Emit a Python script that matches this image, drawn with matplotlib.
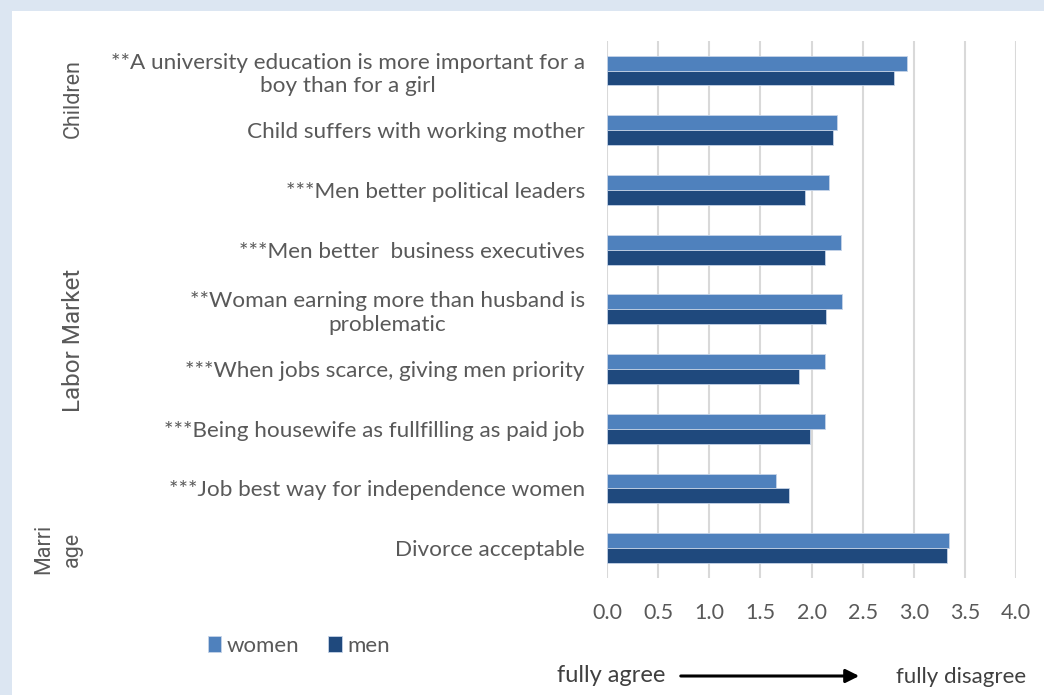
import matplotlib
matplotlib.use("Agg")
import matplotlib.pyplot as plt
from matplotlib.patches import Rectangle, FancyArrowPatch
import numpy as np

plt.rcParams['font.family'] = ['Lato', 'DejaVu Sans']

categories = [
    "**A university education is more important for a\nboy than for a girl",
    "Child suffers with working mother",
    "***Men better political leaders",
    "***Men better  business executives",
    "**Woman earning more than husband is\nproblematic",
    "***When jobs scarce, giving men priority",
    "***Being housewife as fullfilling as paid job",
    "***Job best way for independence women",
    "Divorce acceptable",
]
women = [2.93, 2.25, 2.17, 2.29, 2.30, 2.13, 2.13, 1.65, 3.34]
men = [2.81, 2.21, 1.94, 2.13, 2.14, 1.88, 1.99, 1.78, 3.33]
xticks = [0.0, 0.5, 1.0, 1.5, 2.0, 2.5, 3.0, 3.5, 4.0]
groups = ["Children", "Labor Market", "Marri\nage"]

W, H = 1044, 695
fig = plt.figure(figsize=(W / 100, H / 100), dpi=100)
fig.patch.set_facecolor("#dce6f2")
fig.patches.append(Rectangle((12 / W, 0), 1 - 12 / W, 1 - 11 / H,
                             transform=fig.transFigure, facecolor="white",
                             edgecolor="none", zorder=-10))

ax = fig.add_axes([607 / W, 1 - 578 / H, (1016 - 607) / W, (578 - 40.7) / H])
ax.set_facecolor("none")
gray = "#595959"
c_w = "#4f81bd"
c_m = "#1f497d"

n = len(categories)
y = np.arange(n)
h = 0.25
ax.barh(y - h / 2, women, height=h, color=c_w, edgecolor="#c6d4e8", linewidth=0.6, label="women", zorder=3)
ax.barh(y + h / 2, men, height=h, color=c_m, edgecolor="#c6d4e8", linewidth=0.6, label="men", zorder=3)
ax.set_ylim(n - 0.5, -0.5)
ax.set_xlim(0, 4.0)
ax.set_xticks(xticks)
ax.set_xticklabels([f"{v:.1f}" for v in xticks], fontsize=15.5, color=gray)
ax.set_yticks(y)
ax.set_yticklabels(categories, fontsize=16.2, color=gray, multialignment="center")
ax.tick_params(axis="y", length=0, pad=16)
ax.tick_params(axis="x", length=0, pad=18)
ax.grid(axis="x", color="#d9d9d9", linewidth=1.5, zorder=0)
for s in ax.spines.values():
    s.set_visible(False)

# group labels
gfont = ['Roboto', 'DejaVu Sans']
fig.text(73 / W, 1 - 99 / H, groups[0], rotation=90, ha="center", va="center", fontsize=15.5,
         color=gray, family=gfont)
fig.text(73 / W, 1 - 340 / H, groups[1], rotation=90, ha="center", va="center", fontsize=17.5,
         color=gray, family=gfont)
fig.text(58 / W, 1 - 549 / H, groups[2], rotation=90, ha="center", va="center", fontsize=15.5,
         color=gray, family=gfont, multialignment="center", linespacing=1.45)

# legend
handles, labels = ax.get_legend_handles_labels()
fig.legend(handles, labels, loc="center left", bbox_to_anchor=(188 / W, 1 - 646 / H),
           ncol=2, frameon=False, fontsize=16, handlelength=0.6, handleheight=0.7,
           handletextpad=0.25, columnspacing=1.3, labelcolor=gray)

# agree/disagree arrow
fig.text(557 / W, 1 - 675 / H, "fully agree", ha="left", va="center", fontsize=17, color="#404040")
fig.text(896 / W, 1 - 677 / H, "fully disagree", ha="left", va="center", fontsize=16, color="#404040")
arr = FancyArrowPatch((678 / W, 1 - 676 / H), (862 / W, 1 - 676 / H), transform=fig.transFigure,
                      arrowstyle="-|>,head_length=8,head_width=4", color="black", linewidth=2.2)
fig.patches.append(arr)

fig.savefig("out.png", dpi=100)
